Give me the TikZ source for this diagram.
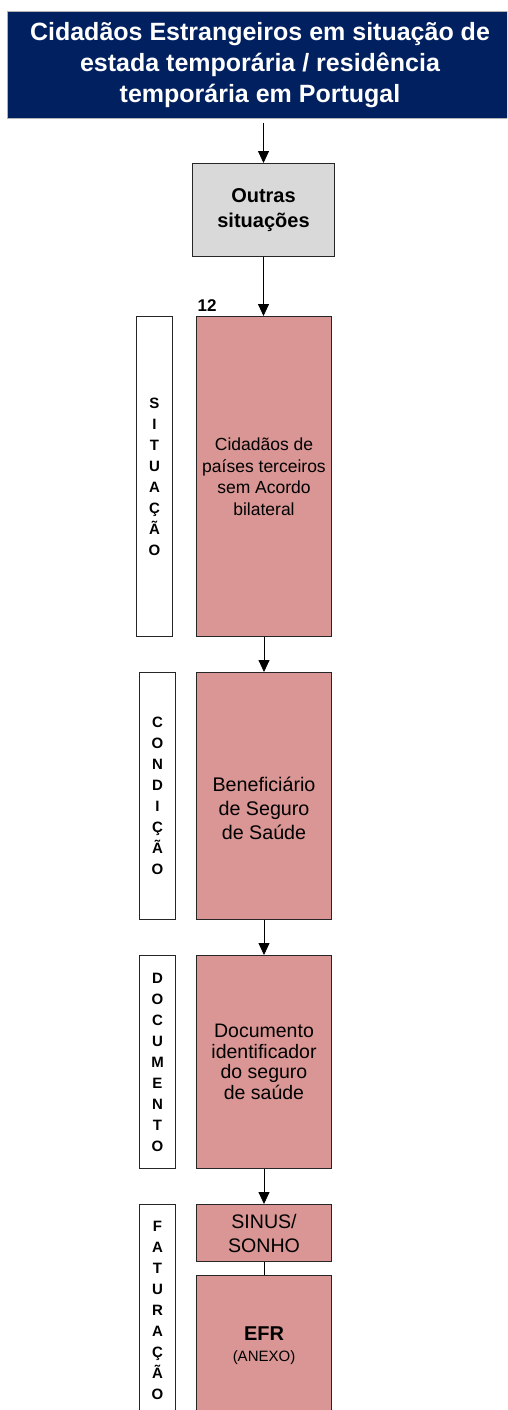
\documentclass[tikz,border=0pt]{standalone}
\usepackage{fontspec}
\setmainfont{Liberation Sans}
\usetikzlibrary{arrows.meta}
\definecolor{navy}{HTML}{002060}
\definecolor{rosa}{HTML}{D99694}
\definecolor{cinza}{HTML}{D9D9D9}
\definecolor{borda}{HTML}{262626}
\begin{document}
\begin{tikzpicture}[x=1pt,y=-1pt,
  box/.style={rectangle,draw=borda,line width=1pt,anchor=north west,inner sep=0pt,align=center},
  mainbox/.style={box,fill=rosa,minimum width=135pt},
  sidebox/.style={box,fill=white,minimum width=36pt},
  sidetxt/.style={font=\fontsize{15}{21}\selectfont\bfseries,align=center,inner sep=0pt},
  arr/.style={-{Triangle[length=12pt,width=11pt]},line width=0.8pt,black},
  conn/.style={line width=0.8pt,black}]
\useasboundingbox (0,0) rectangle (507,1410);
\clip (0,0) rectangle (507,1410);

% title
\node[box,draw=gray!60,fill=navy,minimum width=505pt,minimum height=107pt,text=white,
  font=\fontsize{25}{31}\selectfont\bfseries] (title) at (7,11)
  {Cidadãos Estrangeiros em situação de\\estada temporária / residência\\temporária em Portugal};

% outras
\node[box,fill=cinza,minimum width=142pt,minimum height=93pt,
  font=\fontsize{20}{25}\selectfont\bfseries] (outras) at (192,163) {Outras\\situações};

% main boxes
\node[mainbox,minimum height=320pt,font=\fontsize{17.5}{21.5}\selectfont] (b1) at (196,316)
  {Cidadãos de\\países terceiros\\sem Acordo\\bilateral};
\node[mainbox,minimum height=247pt] (b2) at (196,672) {};
\node[font=\fontsize{19.7}{24}\selectfont,align=center,inner sep=0pt] (b2t)
  at ([yshift=-12pt]b2.center) {Beneficiário\\de Seguro\\de Saúde};
\node[mainbox,minimum height=213pt,font=\fontsize{19.5}{20.5}\selectfont] (b3) at (196,955)
  {Documento\\identificador\\do seguro\\de saúde};
\node[mainbox,minimum height=57pt,font=\fontsize{19.6}{24}\selectfont] (b4) at (196,1204)
  {SINUS/\\SONHO};
\node[mainbox,minimum height=141pt] (b5) at (196,1275)
  {{\fontsize{20}{22}\selectfont\bfseries EFR}\\[9pt]{\fontsize{15}{18}\selectfont (ANEXO)}};

% number
\node[font=\fontsize{17}{18}\selectfont\bfseries,inner sep=0pt] (n12) at (207,305.5) {12};

% side boxes
\node[sidebox,minimum height=320pt] (s1) at (136,316) {};
\node[sidetxt] (t1) at (s1.center) {S\\I\\T\\U\\A\\Ç\\Ã\\O};
\node[sidebox,minimum height=247pt] (s2) at (139,672) {};
\node[sidetxt] (t2) at (s2.center) {C\\O\\N\\D\\I\\Ç\\Ã\\O};
\node[sidebox,minimum height=213pt] (s3) at (139,955) {};
\node[sidetxt] (t3) at (s3.center) {D\\O\\C\\U\\M\\E\\N\\T\\O};
\node[sidebox,minimum height=212pt] (s4) at (139,1204) {};
\node[sidetxt] (t4) at (s4.center) {F\\A\\T\\U\\R\\A\\Ç\\Ã\\O};

% connectors
\draw[arr,shorten <=4pt] (title.south -| outras.north) -- (outras.north);
\draw[arr] (outras.south) -- (b1.north -| outras.south);
\draw[arr] (b1.south) -- (b2.north);
\draw[arr] (b2.south) -- (b3.north);
\draw[arr] (b3.south) -- (b4.north);
\draw[conn] (b4.south) -- (b5.north);
\end{tikzpicture}
\end{document}
